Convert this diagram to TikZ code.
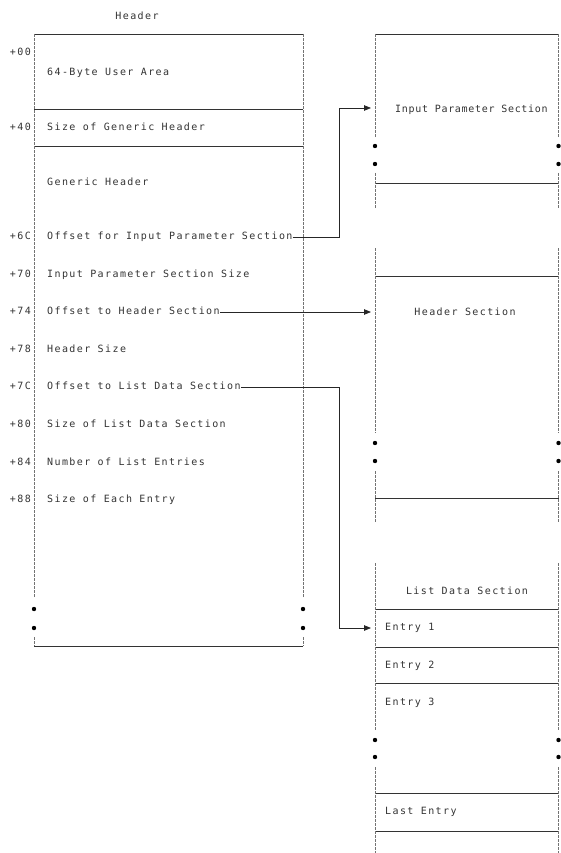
\documentclass[tikz,border=0pt]{standalone}
\usepackage{fontspec}
\newfontfamily\mono[LetterSpace=14]{DejaVu Sans Mono}
\newfontfamily\monon[LetterSpace=7]{DejaVu Sans Mono}
\usetikzlibrary{arrows.meta}
\begin{document}
\begin{tikzpicture}[x=1pt,y=-1pt,
  txt/.style={font=\mono\fontsize{10}{12}\selectfont, text=black!80, inner sep=0pt, anchor=west, text height=7pt, text depth=2pt},
  txtn/.style={txt, font=\monon\fontsize{10}{12}\selectfont},
  ofs/.style={txt, anchor=east},
  ctr/.style={txt, anchor=center},
  side/.style={draw=black!55, line width=0.6pt, dash pattern=on 3pt off 1pt},
  rule/.style={draw=black!80, line width=0.85pt},
  dotf/.style={fill=black},
  conn/.style={draw=black!85, line width=0.8pt},
  arr/.style={conn, -{Triangle[length=7pt,width=5.5pt]}}
]
\useasboundingbox (0,0) rectangle (560,853);

% ---------- Left: Header ----------
\node[ctr] (title) at (137,17) {Header};
\draw[rule] (34,34) -- (303,34);
\draw[rule] (34,109) -- (303,109);
\draw[rule] (34,146) -- (303,146);
\draw[rule] (34,646) -- (303,646);
\foreach \x in {34,303} {
  \draw[side] (\x,34) -- (\x,598);
  \draw[side] (\x,637) -- (\x,646);
  \fill[dotf] (\x,609) circle (2.2pt);
  \fill[dotf] (\x,628) circle (2.2pt);
}

\node[ofs] (o00) at (31,53) {+00};
\node[ofs] (o40) at (31,128) {+40};
\node[ofs] (o6c) at (31,237) {+6C};
\node[ofs] (o70) at (31,275) {+70};
\node[ofs] (o74) at (31,312) {+74};
\node[ofs] (o78) at (31,350) {+78};
\node[ofs] (o7c) at (31,387) {+7C};
\node[ofs] (o80) at (31,425) {+80};
\node[ofs] (o84) at (31,463) {+84};
\node[ofs] (o88) at (31,500) {+88};

\node[txt] (tuser) at (47,73) {64-Byte User Area};
\node[txt] (t40) at (47,128) {Size of Generic Header};
\node[txt] (tgen) at (47,183) {Generic Header};
\node[txt] (t6c) at (47,237) {Offset for Input Parameter Section};
\node[txt] (t70) at (47,275) {Input Parameter Section Size};
\node[txt] (t74) at (47,312) {Offset to Header Section};
\node[txt] (t78) at (47,350) {Header Size};
\node[txt] (t7c) at (47,387) {Offset to List Data Section};
\node[txt] (t80) at (47,425) {Size of List Data Section};
\node[txt] (t84) at (47,463) {Number of List Entries};
\node[txt] (t88) at (47,500) {Size of Each Entry};

% ---------- Right: Input Parameter Section ----------
\draw[rule] (375,34) -- (559,34);
\draw[rule] (375,183) -- (559,183);
\foreach \x in {375,558.5} {
  \draw[side] (\x,34) -- (\x,137);
  \draw[side] (\x,173) -- (\x,209);
  \fill[dotf] (\x,146) circle (2.2pt);
  \fill[dotf] (\x,164) circle (2.2pt);
}
\node[txtn] (tips) at (395,110) {Input Parameter Section};

% ---------- Right: Header Section ----------
\draw[rule] (375,276) -- (559,276);
\draw[rule] (375,498) -- (559,498);
\foreach \x in {375,558.5} {
  \draw[side] (\x,248) -- (\x,433);
  \draw[side] (\x,471) -- (\x,523);
  \fill[dotf] (\x,443) circle (2.2pt);
  \fill[dotf] (\x,461) circle (2.2pt);
}
\node[ctr] (ths) at (465,313) {Header Section};

% ---------- Right: List Data Section ----------
\draw[rule] (375,609) -- (559,609);
\draw[rule] (375,647) -- (559,647);
\draw[rule] (375,683) -- (559,683);
\draw[rule] (375,793) -- (559,793);
\draw[rule] (375,831) -- (559,831);
\foreach \x in {375,558.5} {
  \draw[side] (\x,563) -- (\x,730);
  \draw[side] (\x,767) -- (\x,853);
  \fill[dotf] (\x,740) circle (2.2pt);
  \fill[dotf] (\x,757) circle (2.2pt);
}
\node[ctr] (tlds) at (467,592) {List Data Section};
\node[txt] (te1) at (385,628) {Entry 1};
\node[txt] (te2) at (385,666) {Entry 2};
\node[txt] (te3) at (385,703) {Entry 3};
\node[txt] (tel) at (385,812) {Last Entry};

% ---------- Connectors ----------
\coordinate (ipsin) at (371,108);
\coordinate (hsin) at (371,312);
\coordinate (ldsin) at (371,628);
\coordinate (j1) at (339,108);
\coordinate (j3) at (339,628);
\draw[arr] (t6c.east) -| (j1) -- (ipsin);
\draw[arr] (t74.east) -- (hsin);
\draw[arr] (t7c.east) -| (j3) -- (ldsin);
\end{tikzpicture}
\end{document}
